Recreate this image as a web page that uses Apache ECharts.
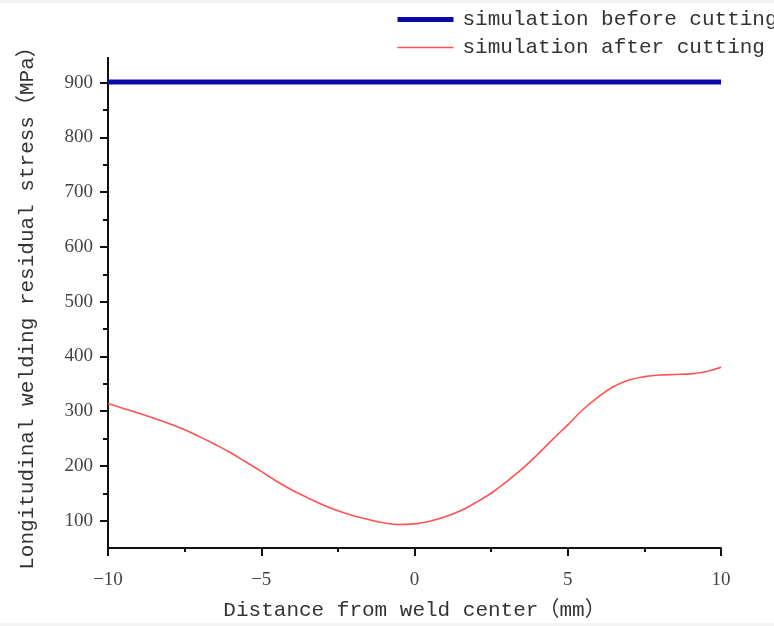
<!DOCTYPE html>
<html>
<head>
<meta charset="utf-8">
<script src="https://cdn.jsdelivr.net/npm/echarts@6/dist/echarts.min.js"></script>
<style>
  html, body { margin: 0; padding: 0; background: #fff; }
  #chart { width: 774px; height: 626px; }
</style>
</head>
<body>
<div id="chart"></div>
<script>
// Distance from weld center (mm)
const distance = [-10, -9.5, -9, -8.5, -8, -7.5, -7, -6.5, -6, -5.5, -5, -4.5, -4, -3.5, -3, -2.5, -2, -1.5, -1, -0.5,
  0, 0.5, 1, 1.5, 2, 2.5, 3, 3.5, 4, 4.5, 5, 5.5, 6, 6.5, 7, 7.5, 8, 8.5, 9, 9.5, 10];
// Stress after cutting (MPa)
const afterCutting = [314, 305, 296, 287, 277, 266, 253, 239, 224, 207, 190, 172, 156, 142, 129, 118, 109, 102, 96, 93,
  94, 99, 107, 118, 133, 150, 171, 194, 220, 248, 275, 303, 326, 345, 357, 363, 366, 367, 368, 372, 380];
// Stress before cutting (MPa), constant across the section
const beforeLevel = 901;
const beforeX = [-10, 10];

const seriesNames = ['simulation before cutting', 'simulation after cutting'];
const yMajorTicks = [100, 200, 300, 400, 500, 600, 700, 800, 900];
const yMinorTicks = [150, 250, 350, 450, 550, 650, 750, 850];

const txt = '#333';
const monoFont = '"Liberation Mono", "Noto Sans CJK SC", monospace';
const serifFont = '"Liberation Serif", serif';

const chart = echarts.init(document.getElementById('chart'), null, { renderer: 'canvas' });

const yBase = {
  type: 'value', min: 50, max: 945, position: 'left',
  splitLine: { show: false },
  axisLine: { show: true, onZero: false, lineStyle: { color: '#111', width: 2 } }
};

chart.setOption({
  animation: false,
  backgroundColor: '#fff',
  graphic: [
    { type: 'rect', shape: { x: 0, y: 0, width: 774, height: 3 }, style: { fill: '#f2f2f2' }, silent: true },
    { type: 'rect', shape: { x: 0, y: 623, width: 774, height: 3 }, style: { fill: '#f4f4f4' }, silent: true }
  ],
  grid: { left: 108, right: 53, top: 58, bottom: 75, containLabel: false },
  legend: {
    orient: 'vertical', left: 395, top: 9, padding: 0,
    itemWidth: 56, itemHeight: 14, itemGap: 7,
    itemStyle: { opacity: 0 },
    textStyle: { fontFamily: monoFont, fontSize: 21, color: txt, lineHeight: 21, padding: [0, 0, 0, 4] },
    data: [
      { name: seriesNames[0], lineStyle: { width: 5 } },
      { name: seriesNames[1], lineStyle: { width: 1.5 } }
    ]
  },
  xAxis: {
    type: 'value', min: -10, max: 10, interval: 5,
    name: 'Distance from weld center（mm）', nameLocation: 'middle', nameGap: 52,
    nameTextStyle: { fontFamily: monoFont, fontSize: 21, color: txt },
    axisLine: { show: true, onZero: false, lineStyle: { color: '#111', width: 2 } },
    axisTick: { show: true, length: 8, lineStyle: { color: '#111', width: 2 } },
    minorTick: { show: true, splitNumber: 2, length: 4, lineStyle: { color: '#111', width: 2 } },
    splitLine: { show: false },
    axisLabel: {
      margin: 23, fontFamily: serifFont, fontSize: 19, color: '#444',
      formatter: v => (v < 0 ? '\u2212' + Math.abs(v) : String(v))
    }
  },
  yAxis: [
    Object.assign({}, yBase, {
      name: 'Longitudinal welding residual stress（MPa）', nameLocation: 'middle', nameGap: 70,
      nameTextStyle: { fontFamily: monoFont, fontSize: 21, color: txt },
      axisTick: { show: true, length: 8, customValues: yMajorTicks, lineStyle: { color: '#111', width: 2 } },
      axisLabel: { margin: 15, customValues: yMajorTicks, fontFamily: serifFont, fontSize: 19, color: '#444' }
    }),
    Object.assign({}, yBase, {
      axisTick: { show: true, length: 5, customValues: yMinorTicks, lineStyle: { color: '#111', width: 2 } },
      axisLabel: { show: false }
    })
  ],
  series: [
    {
      name: seriesNames[0], type: 'line', symbol: 'none', yAxisIndex: 0,
      data: beforeX.map(x => [x, beforeLevel]),
      lineStyle: { color: '#0a0aa8', width: 5 }, itemStyle: { color: '#0a0aa8' }, z: 3
    },
    {
      name: seriesNames[1], type: 'line', symbol: 'none', smooth: 0.4, yAxisIndex: 0,
      data: distance.map((x, i) => [x, afterCutting[i]]),
      lineStyle: { color: '#ff5252', width: 1.6 }, itemStyle: { color: '#ff5252' }, z: 2
    }
  ]
});
</script>
</body>
</html>
